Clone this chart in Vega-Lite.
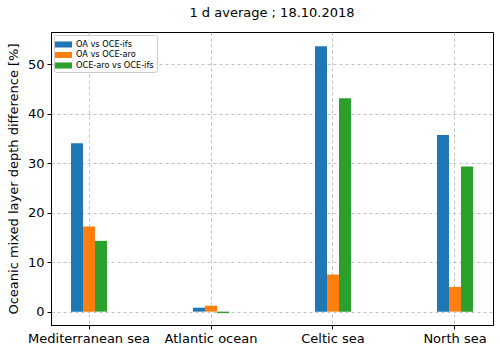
{
  "$schema": "https://vega.github.io/schema/vega-lite/v6.json",
  "width": 442,
  "height": 293,
  "autosize": {"type": "none"},
  "padding": {"left": 51, "top": 32, "right": 7, "bottom": 26},
  "title": {"text": "1 d average ; 18.10.2018", "font": "DejaVu Sans", "fontSize": 13, "fontWeight": "normal", "color": "black", "offset": 12},
  "data": {"values": [
    {"region": "Mediterranean sea", "series": "OA vs OCE-ifs", "value": 34.0},
    {"region": "Mediterranean sea", "series": "OA vs OCE-aro", "value": 17.2},
    {"region": "Mediterranean sea", "series": "OCE-aro vs OCE-ifs", "value": 14.3},
    {"region": "Atlantic ocean", "series": "OA vs OCE-ifs", "value": 0.8},
    {"region": "Atlantic ocean", "series": "OA vs OCE-aro", "value": 1.2},
    {"region": "Atlantic ocean", "series": "OCE-aro vs OCE-ifs", "value": -0.3},
    {"region": "Celtic sea", "series": "OA vs OCE-ifs", "value": 53.6},
    {"region": "Celtic sea", "series": "OA vs OCE-aro", "value": 7.5},
    {"region": "Celtic sea", "series": "OCE-aro vs OCE-ifs", "value": 43.1},
    {"region": "North sea", "series": "OA vs OCE-ifs", "value": 35.7},
    {"region": "North sea", "series": "OA vs OCE-aro", "value": 5.0},
    {"region": "North sea", "series": "OCE-aro vs OCE-ifs", "value": 29.3}
  ]},
  "mark": {"type": "bar"},
  "encoding": {
    "x": {
      "field": "region", "type": "nominal", "sort": null,
      "scale": {"paddingInner": 0.705, "paddingOuter": 0.164},
      "axis": {"title": null, "labelAngle": 0, "grid": true, "bandPosition": 0.5, "tickBand": "center"}
    },
    "xOffset": {"field": "series", "type": "nominal", "sort": null, "scale": {"paddingInner": 0, "paddingOuter": 0}},
    "y": {
      "field": "value", "type": "quantitative",
      "scale": {"domain": [-2.7, 56.5], "nice": false, "zero": false},
      "axis": {"title": "Oceanic mixed layer depth difference [%]", "values": [0, 10, 20, 30, 40, 50], "grid": true, "titlePadding": 7}
    },
    "color": {
      "field": "series", "type": "nominal", "sort": null,
      "scale": {"domain": ["OA vs OCE-ifs", "OA vs OCE-aro", "OCE-aro vs OCE-ifs"], "range": ["#1f77b4", "#ff7f0e", "#2ca02c"]},
      "legend": {
        "title": null, "orient": "none", "legendX": 3, "legendY": 3,
        "symbolType": "M-1.4,-0.5H1.4V0.5H-1.4Z", "symbolSize": 147,
        "labelFont": "DejaVu Sans", "labelFontSize": 8.2, "labelColor": "black", "labelOffset": 6,
        "rowPadding": 0.5, "padding": 3, "strokeColor": "#cccccc", "fillColor": "rgba(255,255,255,0.8)",
        "cornerRadius": 2, "symbolStrokeWidth": 0
      }
    }
  },
  "config": {
    "font": "DejaVu Sans",
    "view": {"stroke": "black", "strokeWidth": 1},
    "axis": {
      "labelFont": "DejaVu Sans", "labelFontSize": 13, "labelColor": "black",
      "titleFont": "DejaVu Sans", "titleFontSize": 13, "titleFontWeight": "normal", "titleColor": "black",
      "domainColor": "black", "tickColor": "black", "tickSize": 4,
      "gridColor": "#b0b0b0", "gridDash": [3, 3], "gridWidth": 0.8, "labelPadding": 3
    }
  }
}
